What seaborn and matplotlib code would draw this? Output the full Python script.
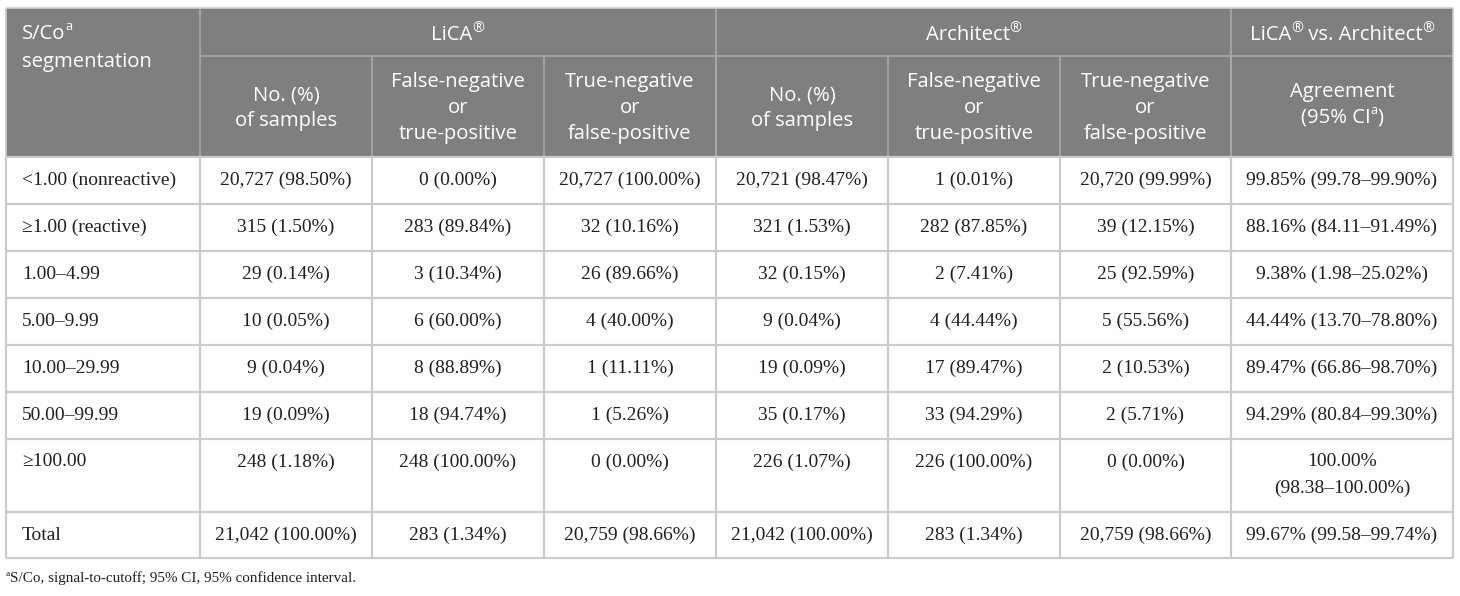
import matplotlib
matplotlib.use("Agg")
import matplotlib.pyplot as plt
import seaborn as sns

# table values
segments = ["<1.00 (nonreactive)", "≥1.00 (reactive)", "1.00–4.99", "5.00–9.99",
            "10.00–29.99", "50.00–99.99", "≥100.00", "Total"]

lica_n = [20727, 315, 29, 10, 9, 19, 248, 21042]
lica_pct = [98.50, 1.50, 0.14, 0.05, 0.04, 0.09, 1.18, 100.00]
lica_fn_n = [0, 283, 3, 6, 8, 18, 248, 283]
lica_fn_pct = [0.00, 89.84, 10.34, 60.00, 88.89, 94.74, 100.00, 1.34]
lica_tn_n = [20727, 32, 26, 4, 1, 1, 0, 20759]
lica_tn_pct = [100.00, 10.16, 89.66, 40.00, 11.11, 5.26, 0.00, 98.66]

arch_n = [20721, 321, 32, 9, 19, 35, 226, 21042]
arch_pct = [98.47, 1.53, 0.15, 0.04, 0.09, 0.17, 1.07, 100.00]
arch_fn_n = [1, 282, 2, 4, 17, 33, 226, 283]
arch_fn_pct = [0.01, 87.85, 7.41, 44.44, 89.47, 94.29, 100.00, 1.34]
arch_tn_n = [20720, 39, 25, 5, 2, 2, 0, 20759]
arch_tn_pct = [99.99, 12.15, 92.59, 55.56, 10.53, 5.71, 0.00, 98.66]

agree = [99.85, 88.16, 9.38, 44.44, 89.47, 94.29, 100.00, 99.67]
ci_lo = [99.78, 84.11, 1.98, 13.70, 66.86, 80.84, 98.38, 99.58]
ci_hi = [99.90, 91.49, 25.02, 78.80, 98.70, 99.30, 100.00, 99.74]

sub_headers = [["No. (%)", "of samples"],
               ["False-negative", "or", "true-positive"],
               ["True-negative", "or", "false-positive"]]

sns.set_theme(style="white")
plt.rcParams["font.family"] = ["Open Sans", "DejaVu Sans"]

SANS = ["Open Sans", "DejaVu Sans"]
SERIF = ["Liberation Serif", "DejaVu Serif"]
HEAD_BG = "#7f7f7f"
HEAD_LINE = "#a9a9a9"
BODY_LINE = "#cbcbcb"
TXT = "#231f20"

fig = plt.figure(figsize=(14.6, 5.96), dpi=100)
ax = fig.add_axes([0, 0, 1, 1])
ax.set_xlim(0, 1460)
ax.set_ylim(596, 0)
ax.axis("off")

cols = [6, 200, 372, 544, 716, 888, 1060, 1231, 1453]
centers = [(a + b) / 2 for a, b in zip(cols[:-1], cols[1:])]
top, h1, h2 = 8, 56, 157
rows = [157, 204, 251, 298, 345, 392, 439, 512, 558]

renderer = fig.canvas.get_renderer()
PX = 100 / 72


def rich(x, y, parts, size, family, color, ha="center", sup_scale=0.62, raise_=0.42):
    items = []
    for s, sup in parts:
        t = ax.text(0, 0, s, fontsize=size * sup_scale if sup else size,
                    family=family, color=color, va="baseline", ha="left")
        items.append((t, t.get_window_extent(renderer).width, sup))
    total = sum(w for _, w, _ in items)
    x0 = x - total / 2 if ha == "center" else x
    for t, w, sup in items:
        t.set_position((x0, y - (size * PX * raise_ if sup else 0)))
        x0 += w


# header background and lines
ax.fill_between([cols[0], cols[-1]], top, h2, color=HEAD_BG, lw=0)
ax.hlines(h1, cols[1], cols[-1], color=HEAD_LINE, lw=1.2)
ax.vlines([cols[1], cols[4], cols[7]], top, h2, color=HEAD_LINE, lw=1.2)
ax.vlines(cols[2:-1], h1, h2, color=HEAD_LINE, lw=1.2)

# body grid
ax.hlines(rows, cols[0], cols[-1], color=BODY_LINE, lw=1.6)
ax.vlines(cols, h2, rows[-1], color=BODY_LINE, lw=1.6)
ax.vlines([cols[0], cols[-1]], top, h2, color=BODY_LINE, lw=1.2)
ax.hlines(top, cols[0], cols[-1], color=BODY_LINE, lw=1.2)

HS = 14.6
# header row 1
rich(22, 39, [("S/Co", False), ("a", True)], HS, SANS, "white", ha="left")
ax.text(22, 62, "segmentation", fontsize=HS, family=SANS, color="white", va="center")
reg = dict(sup_scale=0.7, raise_=0.4)
rich((cols[1] + cols[4]) / 2, 40, [("LiCA", False), ("®", True)], HS, SANS, "white", **reg)
rich((cols[4] + cols[7]) / 2, 40, [("Architect", False), ("®", True)], HS, SANS, "white", **reg)
rich((cols[7] + cols[8]) / 2, 40, [("LiCA", False), ("®", True), (" vs. Architect", False),
                                   ("®", True)], HS, SANS, "white", **reg)

# header row 2
for k in range(6):
    lines = sub_headers[k % 3]
    n = len(lines)
    for j, line in enumerate(lines):
        yy = 108 + (j - (n - 1) / 2) * 26
        ax.text(centers[k + 1], yy, line, fontsize=HS, family=SANS, color="white",
                ha="center", va="center")
ax.text(centers[7], 92, "Agreement", fontsize=HS, family=SANS, color="white",
        ha="center", va="center")
rich(centers[7], 123, [("(95% CI", False), ("a", True), (")", False)], HS, SANS, "white")


def fmt(n, p):
    return f"{n:,} ({p:.2f}%)"


BS = 14
for i, seg in enumerate(segments):
    if i == 6:
        yc = 462
    else:
        yc = (rows[i] + rows[i + 1]) / 2
    ax.text(22, yc, seg, fontsize=BS, family=SERIF, color=TXT, va="center")
    cells = [fmt(lica_n[i], lica_pct[i]), fmt(lica_fn_n[i], lica_fn_pct[i]),
             fmt(lica_tn_n[i], lica_tn_pct[i]), fmt(arch_n[i], arch_pct[i]),
             fmt(arch_fn_n[i], arch_fn_pct[i]), fmt(arch_tn_n[i], arch_tn_pct[i])]
    for k, c in enumerate(cells):
        ax.text(centers[k + 1], yc, c, fontsize=BS, family=SERIF, color=TXT,
                ha="center", va="center")
    if i == 6:
        ax.text(centers[7], yc, f"{agree[i]:.2f}%", fontsize=BS, family=SERIF,
                color=TXT, ha="center", va="center")
        ax.text(centers[7], yc + 26, f"({ci_lo[i]:.2f}–{ci_hi[i]:.2f}%)", fontsize=BS,
                family=SERIF, color=TXT, ha="center", va="center")
    else:
        ax.text(centers[7], yc, f"{agree[i]:.2f}% ({ci_lo[i]:.2f}–{ci_hi[i]:.2f}%)",
                fontsize=BS, family=SERIF, color=TXT, ha="center", va="center")

# footnote
rich(6, 582, [("a", True), ("S/Co, signal-to-cutoff; 95% CI, 95% confidence interval.", False)],
     10.9, SERIF, TXT, ha="left")

fig.savefig("out.png", dpi=100, facecolor="white")
